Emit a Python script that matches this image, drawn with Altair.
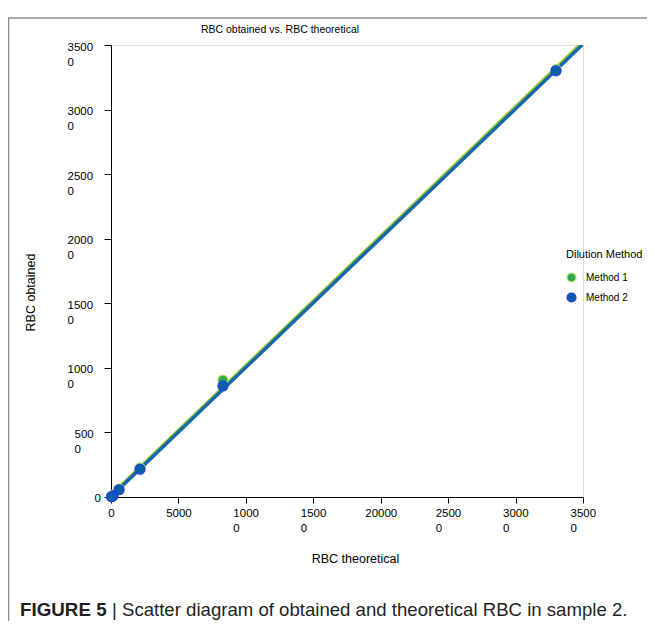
import altair as alt
import pandas as pd

# ---- data ----
methods = ["Method 1", "Method 2"]
theoretical = [33000, 8300, 2150, 600, 150, 40]
obtained_m1 = [33100, 9050, 2250, 620, 150, 40]
obtained_m2 = [33000, 8600, 2150, 560, 90, 20]
x_ticks = [0, 5000, 10000, 15000, 20000, 25000, 30000, 35000]
y_ticks = [0, 5000, 10000, 15000, 20000, 25000, 30000, 35000]

title_text = "RBC obtained vs. RBC theoretical"
x_title = "RBC theoretical"
y_title = "RBC obtained"
legend_title = "Dilution Method"
caption_bold = "FIGURE 5"
caption_rest = "| Scatter diagram of obtained and theoretical RBC in sample 2."

fill_colors = ["#2ea84a", "#0b5fa5"]
stroke_colors = ["#b5dc7a", "#1f3fe0"]
line_green = "#9cc93c"
line_blue = "#1668a6"

rows = []
for m, vals in zip(methods, [obtained_m1, obtained_m2]):
    for t, o in zip(theoretical, vals):
        rows.append({"method": m, "theoretical": t, "obtained": o})
df = pd.DataFrame(rows)

FONT = "Liberation Sans"
W, H = 472, 452
LBL = 11.5
TTL = 12.5

xscale = alt.Scale(domain=[0, 35000], nice=False, zero=True)
yscale = alt.Scale(domain=[0, 35000], nice=False, zero=True)

two_x = "datum.value >= 10000 && datum.value != 20000"
x_axis = alt.Axis(
    values=x_ticks, grid=False, title=x_title,
    labelExpr="(" + two_x + ") ? [substring(''+datum.value,0,4), substring(''+datum.value,4)] : ''+datum.value",
    labelAlign={"condition": {"test": two_x, "value": "left"}, "value": "center"},
    labelOffset={"condition": {"test": two_x, "value": -13}, "value": 0},
    labelBaseline="top", labelPadding=4, labelLineHeight=15, labelFlush=False, labelOverlap=False,
    tickSize=6, tickColor="black", domainColor="black", labelColor="black",
    labelFont=FONT, labelFontSize=LBL, titleFont=FONT, titleFontSize=TTL,
    titleFontWeight="normal", titleColor="black", titleX=244, titleY=55,
    titleAnchor="middle",
)
y_axis = alt.Axis(
    values=y_ticks, grid=False, title=y_title,
    labelExpr="datum.value > 0 ? [substring(''+datum.value,0,length(''+datum.value)-1), substring(''+datum.value,length(''+datum.value)-1)] : ''+datum.value",
    labelAlign="left",
    labelPadding={"condition": [{"test": "datum.value == 0", "value": 10},
                                {"test": "datum.value == 5000", "value": 30}], "value": 37},
    labelOffset={"condition": {"test": "datum.value > 0", "value": 2}, "value": 1},
    labelBaseline="middle", labelLineHeight=15, labelFlush=False, labelOverlap=False,
    tickSize=7, tickColor="black", domainColor="black", labelColor="black",
    labelFont=FONT, labelFontSize=LBL, titleFont=FONT, titleFontSize=TTL,
    titleFontWeight="normal", titleColor="black", titleX=-74, titleY=247,
    titleAnchor="middle",
)

base = alt.Chart(df)

lines = base.transform_regression(
    "theoretical", "obtained", groupby=["method"], extent=[0, 35000]
).mark_line(strokeWidth=3.5, clip=True).encode(
    x=alt.X("theoretical:Q", scale=xscale, axis=x_axis),
    y=alt.Y("obtained:Q", scale=yscale, axis=y_axis),
    detail="method:N",
    stroke=alt.condition("datum.method == 'Method 1'", alt.value(line_green), alt.value(line_blue)),
)

legend = alt.Legend(
    title=legend_title, orient="none", legendX=455, legendY=204,
    titleFont=FONT, titleFontSize=11, titleFontWeight="normal", titleColor="black",
    labelFont=FONT, labelFontSize=10, labelColor="black",
    symbolSize=80, symbolStrokeWidth=1.2, titlePadding=12, rowPadding=5, labelOffset=9,
)

points = base.mark_circle(size=100, opacity=1, strokeWidth=1.2).encode(
    x=alt.X("theoretical:Q", scale=xscale, axis=x_axis),
    y=alt.Y("obtained:Q", scale=yscale, axis=y_axis),
    fill=alt.Fill("method:N", scale=alt.Scale(domain=methods, range=fill_colors), legend=legend),
    stroke=alt.Stroke("method:N", scale=alt.Scale(domain=methods, range=stroke_colors), legend=legend),
    order=alt.Order("method:N"),
)

one = pd.DataFrame([{"k": 1}])
frame_top = alt.Chart(one).mark_rule(color="#8c8c8c", strokeWidth=1.5).encode(
    x=alt.value(-103), x2=alt.value(540), y=alt.value(-27))
frame_left = alt.Chart(one).mark_rule(color="#8c8c8c", strokeWidth=1.5).encode(
    x=alt.value(-102.5), y=alt.value(-27), y2=alt.value(580))

title_mark = alt.Chart(one).mark_text(
    font=FONT, fontSize=10.5, color="black", align="center", baseline="middle"
).encode(x=alt.value(169), y=alt.value(-15), text=alt.value(title_text))

cap1 = alt.Chart(one).mark_text(
    font=FONT, fontSize=18.8, fontWeight="bold", color="#231f20", align="left", baseline="middle"
).encode(x=alt.value(-91), y=alt.value(565), text=alt.value(caption_bold))
cap2 = alt.Chart(one).mark_text(
    font=FONT, fontSize=18.6, color="#231f20", align="left", baseline="middle"
).encode(x=alt.value(1), y=alt.value(565), text=alt.value(caption_rest))

chart = alt.layer(
    frame_top, frame_left, lines, points, title_mark, cap1, cap2
).properties(
    width=W, height=H,
    autosize=alt.AutoSizeParams(type="none"),
    padding={"left": 103, "top": 37, "right": 64, "bottom": 124},
).configure_view(stroke=None).configure(background="white")

chart.save("out.html", embed_options={"renderer": "svg", "actions": False})
